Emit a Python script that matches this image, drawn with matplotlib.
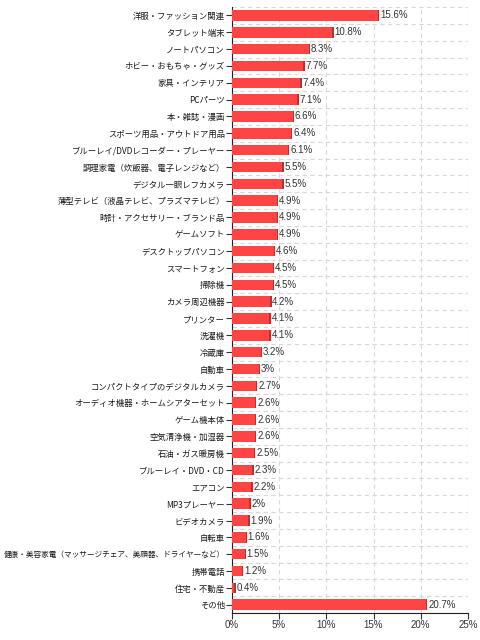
import matplotlib
matplotlib.use('Agg')
import matplotlib.pyplot as plt
import numpy as np

plt.rcParams['font.family'] = ['Noto Sans CJK JP', 'DejaVu Sans']

labels = ['洋服・ファッション関連', 'タブレット端末', 'ノートパソコン', 'ホビー・おもちゃ・グッズ',
          '家具・インテリア', 'PCパーツ', '本・雑誌・漫画', 'スポーツ用品・アウトドア用品',
          'ブルーレイ/DVDレコーダー・プレーヤー', '調理家電（炊飯器、電子レンジなど）',
          'デジタル一眼レフカメラ', '薄型テレビ（液晶テレビ、プラズマテレビ）',
          '時計・アクセサリー・ブランド品', 'ゲームソフト', 'デスクトップパソコン', 'スマートフォン',
          '掃除機', 'カメラ周辺機器', 'プリンター', '洗濯機', '冷蔵庫', '自動車',
          'コンパクトタイプのデジタルカメラ', 'オーディオ機器・ホームシアターセット', 'ゲーム機本体',
          '空気清浄機・加湿器', '石油・ガス暖房機', 'ブルーレイ・DVD・CD', 'エアコン', 'MP3プレーヤー',
          'ビデオカメラ', '自転車', '健康・美容家電（マッサージチェア、美顔器、ドライヤーなど）',
          '携帯電話', '住宅・不動産', 'その他']
values = [15.6, 10.8, 8.3, 7.7, 7.4, 7.1, 6.6, 6.4, 6.1, 5.5, 5.5, 4.9, 4.9, 4.9, 4.6, 4.5,
          4.5, 4.2, 4.1, 4.1, 3.2, 3, 2.7, 2.6, 2.6, 2.6, 2.5, 2.3, 2.2, 2, 1.9, 1.6, 1.5,
          1.2, 0.4, 20.7]
xticks = [0, 5, 10, 15, 20, 25]

fig = plt.figure(figsize=(4.8, 6.4), dpi=100)
ax = fig.add_axes([0.483, 0.042, 0.492, 0.947])

y = np.arange(len(labels))
vals = np.array(values)
ax.barh(y, vals, height=0.62, color='#ff4444', zorder=3)
# darker strip at the bar ends (3d look)
ax.barh(y, np.full(len(vals), 0.15), left=vals - 0.15, height=0.62, color='#b83030', zorder=4)

for i, v in enumerate(values):
    ax.text(v + 0.08, i, '%g%%' % v, va='center', ha='left', fontsize=7,
            family='Liberation Sans', color='#333333', zorder=5)

ax.set_xlim(0, 25)
ax.set_ylim(len(labels) - 0.5, -0.5)
ax.set_xticks(xticks)
ax.set_xticklabels(['%d%%' % t for t in xticks], family='Liberation Sans', fontsize=7, color='#333333')
ax.set_yticks(y)
ax.set_yticklabels(labels, fontsize=6, color='#1a1a1a')
for t in ax.get_yticklabels():
    if len(t.get_text()) > 25:
        t.set_fontsize(5.5)
ax.set_yticks(np.arange(len(labels) + 1) - 0.5, minor=True)
ax.tick_params(axis='y', which='minor', length=0)
ax.tick_params(axis='both', which='major', length=4, width=0.8, pad=1, color='#333333')

ax.grid(axis='x', which='major', linestyle=(0, (4, 3)), color='#d8d8d8', linewidth=0.8, zorder=0)
ax.grid(axis='y', which='minor', linestyle=(0, (4, 3)), color='#d8d8d8', linewidth=0.8, zorder=0)

for s in ['top', 'right']:
    ax.spines[s].set_visible(False)
ax.spines['left'].set_color('#222222')
ax.spines['bottom'].set_color('#222222')

plt.savefig('out.png', dpi=100)
